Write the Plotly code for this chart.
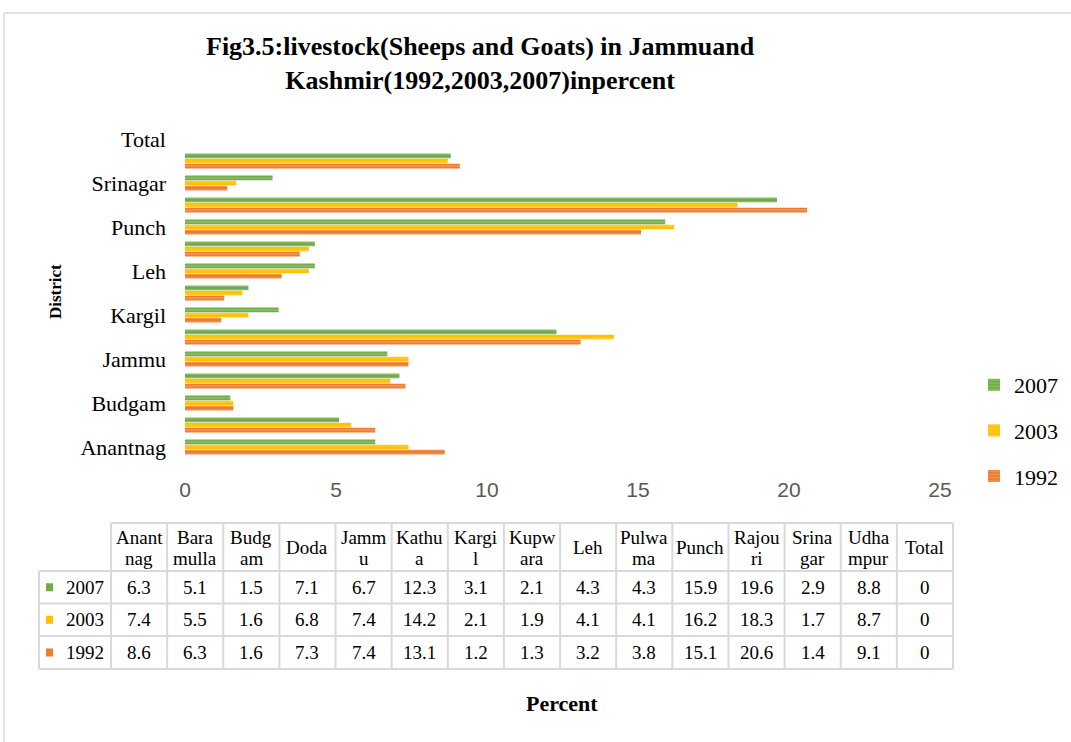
import plotly.graph_objects as go

# Share of sheep and goats by district, in percent
districts = ["Anantnag", "Baramulla", "Budgam", "Doda", "Jammu", "Kathua", "Kargil",
             "Kupwara", "Leh", "Pulwama", "Punch", "Rajouri", "Srinagar", "Udhampur", "Total"]
table_headers = ["Anant<br>nag", "Bara<br>mulla", "Budg<br>am", "Doda", "Jamm<br>u", "Kathu<br>a",
                 "Kargi<br>l", "Kupw<br>ara", "Leh", "Pulwa<br>ma", "Punch", "Rajou<br>ri",
                 "Srina<br>gar", "Udha<br>mpur", "Total"]
values_2007 = [6.3, 5.1, 1.5, 7.1, 6.7, 12.3, 3.1, 2.1, 4.3, 4.3, 15.9, 19.6, 2.9, 8.8, 0]
values_2003 = [7.4, 5.5, 1.6, 6.8, 7.4, 14.2, 2.1, 1.9, 4.1, 4.1, 16.2, 18.3, 1.7, 8.7, 0]
values_1992 = [8.6, 6.3, 1.6, 7.3, 7.4, 13.1, 1.2, 1.3, 3.2, 3.8, 15.1, 20.6, 1.4, 9.1, 0]
x_ticks = [0, 5, 10, 15, 20, 25]

W, H = 1071, 742
SERIF = "Liberation Serif"
GRID = "#d9d9d9"


def px(x):
    return x / W


def py(y):
    return 1 - y / H


def label(text, x, y, size, **kw):
    return dict(text=text, x=px(x), y=py(y), xref="paper", yref="paper",
                xanchor="center", yanchor="middle", showarrow=False,
                font=dict(family=SERIF, size=size, color="black"), **kw)


series = [
    ("1992", values_1992, "#ED7D31", 3),
    ("2003", values_2003, "#FFC000", 2),
    ("2007", values_2007, "#70AD47", 1),
]

fig = go.Figure()
for name, vals, color, rank in series:
    fig.add_trace(go.Bar(
        y=districts, x=vals, name=name, orientation="h",
        legendgroup=name, legendrank=rank,
        marker=dict(color=color, line=dict(width=0),
                    pattern=dict(shape="-", fgcolor="white", fgopacity=0.35,
                                 size=4, solidity=0.2)),
    ))

annotations = []
shapes = []

# outer chart frame
shapes.append(dict(type="rect", xref="paper", yref="paper",
                   x0=px(4), x1=1.02, y0=-0.02, y1=py(13),
                   line=dict(color=GRID, width=1.5)))

# title
annotations.append(label(
    "<b>Fig3.5:livestock(Sheeps and Goats) in Jammuand<br>Kashmir(1992,2003,2007)inpercent</b>",
    480, 64, 26, align="center"))

# axis titles
annotations.append(label("<b>District</b>", 55, 292, 17, textangle=-90))
annotations.append(label("<b>Percent</b>", 562, 703, 22))

# data table under the chart
tx0, tx1 = 39, 111
col_w = (953 - 111) / len(districts)
row_y = [523, 571, 603.5, 636, 669]
x_end = tx1 + col_w * len(districts)

line_style = dict(color=GRID, width=2)
shapes.append(dict(type="line", xref="paper", yref="paper", x0=px(tx1), x1=px(x_end),
                   y0=py(row_y[0]), y1=py(row_y[0]), line=line_style))
for yy in row_y[1:]:
    shapes.append(dict(type="line", xref="paper", yref="paper", x0=px(tx0), x1=px(x_end),
                       y0=py(yy), y1=py(yy), line=line_style))
shapes.append(dict(type="line", xref="paper", yref="paper", x0=px(tx0), x1=px(tx0),
                   y0=py(row_y[1]), y1=py(row_y[-1]), line=line_style))
for i in range(len(districts) + 1):
    xx = tx1 + col_w * i
    shapes.append(dict(type="line", xref="paper", yref="paper", x0=px(xx), x1=px(xx),
                       y0=py(row_y[0]), y1=py(row_y[-1]), line=line_style))

# header cells: wrapped names are set line by line with tight leading
hdr_mid = (row_y[0] + row_y[1]) / 2
for i, hdr in enumerate(table_headers):
    cx = tx1 + col_w * (i + 0.5)
    parts = hdr.split("<br>")
    if len(parts) == 1:
        annotations.append(label(parts[0], cx, hdr_mid, 19))
    else:
        annotations.append(label(parts[0], cx, hdr_mid - 10, 19))
        annotations.append(label(parts[1], cx, hdr_mid + 11, 19))

table_rows = [series[2], series[1], series[0]]
for r, (name, vals, color, _) in enumerate(table_rows):
    cy = (row_y[r + 1] + row_y[r + 2]) / 2
    shapes.append(dict(type="rect", xref="paper", yref="paper",
                       x0=px(46), x1=px(53), y0=py(cy + 4), y1=py(cy - 4),
                       fillcolor=color, line=dict(width=0)))
    annotations.append(label(name, 85, cy, 19))
    for i, v in enumerate(vals):
        cx = tx1 + col_w * (i + 0.5)
        annotations.append(label(f"{v:g}", cx, cy, 19))

fig.update_layout(
    width=W, height=H,
    margin=dict(l=0, r=0, t=0, b=0, autoexpand=False),
    paper_bgcolor="white", plot_bgcolor="white",
    barmode="group", bargap=0.3, bargroupgap=0.1,
    showlegend=True,
    legend=dict(x=px(974), y=py(364), xanchor="left", yanchor="top",
                traceorder="grouped", tracegroupgap=14,
                font=dict(family=SERIF, size=22, color="black"),
                bgcolor="rgba(0,0,0,0)"),
    xaxis=dict(domain=[px(185), px(940)], range=[0, 25], tickvals=x_ticks,
               showgrid=False, zeroline=False, showline=False, ticks="",
               tickfont=dict(family="Liberation Sans", size=21, color="#595959"),
               ticklabelstandoff=17, fixedrange=True),
    yaxis=dict(domain=[py(458), py(128)], type="category", categoryorder="array",
               categoryarray=districts, range=[-0.5, len(districts) - 0.5],
               tickvals=districts[::2], ticktext=districts[::2],
               showgrid=False, zeroline=False, showline=False, ticks="",
               tickfont=dict(family=SERIF, size=22, color="black"),
               ticklabelstandoff=18, fixedrange=True),
    annotations=annotations,
    shapes=shapes,
)

fig.write_html("out.html")
